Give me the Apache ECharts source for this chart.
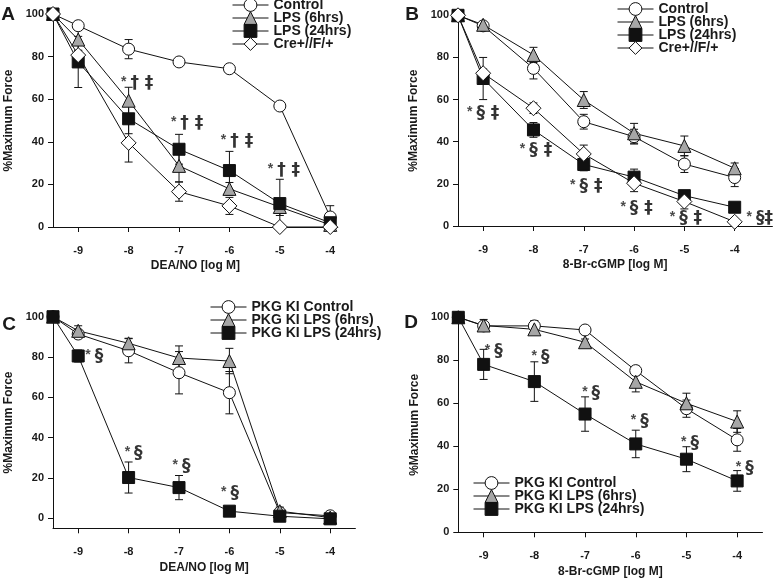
<!DOCTYPE html>
<html>
<head>
<meta charset="utf-8">
<script src="https://cdn.jsdelivr.net/npm/echarts@6/dist/echarts.min.js"></script>
<style>
html,body{margin:0;padding:0;background:#fff;}
#chart{width:776px;height:579px;}
</style>
</head>
<body>
<div id="chart"></div>
<script>
// ---------- data ----------
const xVals = [-9.5, -9, -8, -7, -6, -5, -4];
const xTicks = [-9, -8, -7, -6, -5, -4];
const yTicks = [0, 20, 40, 60, 80, 100];

// Panel A : DEA/NO
const aControl = [100, 94.5, 83.5, 77.5, 74.3, 56.8, 4.7];
const aControlErr = [0, 0, 4.5, 0, 0, 0, 5.3];
const aLps6 = [100, 88, 59.3, 28.7, 17.9, 9.4, 1];
const aLps6Err = [0, 5, 6.3, 7.5, 3, 4, 0.5];
const aLps24 = [100, 77.5, 50.8, 36.5, 26.5, 11, 2];
const aLps24Err = [0, 12, 7, 7, 9, 11.4, 1];
const aCre = [100, 80.7, 39.5, 16.6, 9.9, 0, 0];
const aCreErr = [0, 2, 9, 4.5, 4, 0, 0];
const aAnnX = [-7.83, -6.84, -5.85, -4.92];
const aAnnY = [67.4, 48.6, 40, 26.6];
const aAnnMarks = ['† ‡', '† ‡', '† ‡', '† ‡'];

// Panel B : 8-Br-cGMP
const bControl = [100, 95, 74.8, 49.5, 42.4, 29.4, 23];
const bControlErr = [0, 1, 5, 3.5, 3.5, 4, 4.3];
const bLps6 = [100, 95.5, 81.2, 59.8, 44, 38, 27.4];
const bLps6Err = [0, 1.5, 3.6, 4, 4.7, 4.7, 2.5];
const bLps24 = [100, 70, 45.6, 29.2, 23.2, 14.4, 8.9];
const bLps24Err = [0, 10, 3.5, 3, 3.8, 1.5, 1.5];
const bCre = [100, 72.5, 55.9, 34.2, 20.3, 11.6, 2];
const bCreErr = [0, 2, 2.5, 4.2, 4, 3.5, 1];
const bAnnX = [-9, -7.95, -6.95, -5.95, -4.97, -3.5];
const bAnnY = [53.5, 36, 18.7, 8.4, 3.6, 3.6];
const bAnnMarks = ['§ ‡', '§ ‡', '§ ‡', '§ ‡', '§ ‡', '§‡'];

// Panel C : DEA/NO, PKG KI
const cControl = [100, 91.4, 83.1, 72.2, 62.3, 2.8, 1.2];
const cControlErr = [0, 2, 6, 10.5, 10.5, 2, 1];
const cLps6 = [100, 93, 86.8, 79.5, 78, 3.5, 0.3];
const cLps6Err = [0, 2.5, 2.5, 6, 6.3, 2, 0.5];
const cLps24 = [100, 80.5, 20.2, 15.2, 3.5, 1, -0.3];
const cLps24Err = [0, 3, 7.7, 6, 0.5, 0.5, 0.5];
const cAnnX = [-8.68, -7.9, -6.95, -5.99];
const cAnnY = [80, 32, 25.5, 12.3];
const cAnnMarks = ['§', '§', '§', '§'];

// Panel D : 8-Br-cGMP, PKG KI
const dControl = [100, 96, 96, 94.1, 75.2, 57.5, 43];
const dControlErr = [0, 1.5, 2.5, 1, 2, 4, 5.3];
const dLps6 = [100, 96.2, 94.4, 88.4, 70, 60, 51.5];
const dLps6Err = [0, 2.8, 2, 1.5, 4.7, 4.7, 5];
const dLps24 = [100, 78.1, 70.1, 55, 41.1, 34, 23.9];
const dLps24Err = [0, 7, 9.2, 8, 6.4, 5.8, 4.8];
const dAnnX = [-8.8, -7.88, -6.88, -5.92, -4.93, -3.85];
const dAnnY = [84, 81.2, 64.6, 51.5, 41.4, 29.8];
const dAnnMarks = ['§', '§', '§', '§', '§', '§'];

const namesAB = ['Control', 'LPS (6hrs)', 'LPS (24hrs)', 'Cre+//F/+'];
const namesCD = ['PKG KI Control', 'PKG KI LPS (6hrs)', 'PKG KI LPS (24hrs)'];
const xNames = ['DEA/NO [log M]', '8-Br-cGMP [log M]', 'DEA/NO [log M]', '8-Br-cGMP [log M]'];
const yName = '%Maximum Force';
const panelLetters = ['A', 'B', 'C', 'D'];

// ---------- styling ----------
const FONT = 'Liberation Sans, Arial, sans-serif';
const INK = '#1a1a1a';
const styles = {
  control: {symbol: 'circle', size: 12, color: '#ffffff'},
  lps6: {symbol: 'triangle', size: 13, color: '#a6a6a6'},
  lps24: {symbol: 'rect', size: 12, color: '#111111'},
  cre: {symbol: 'diamond', size: 15, color: '#ffffff'}
};
const stylesAB = [styles.control, styles.lps6, styles.lps24, styles.cre];
const stylesCD = [styles.control, styles.lps6, styles.lps24];

const grids = [
  {left: 53, top: 14, width: 284.8, height: 213},
  {left: 458, top: 15.3, width: 314.4, height: 210.7},
  {left: 53, top: 316.7, width: 302.4, height: 211.6},
  {left: 458.3, top: 317.3, width: 304.2, height: 215}
];
const xMax = [-3.85, -3.25, -3.5, -3.5];
const yMin = [0, 0, -5, 0];

const series = [];

function addSeries(name, gi, vals, errs, st) {
  series.push({
    type: 'custom', xAxisIndex: gi, yAxisIndex: gi, z: 1, silent: true,
    data: xVals.map((x, i) => [x, vals[i] - errs[i], vals[i] + errs[i]]),
    renderItem: function (params, api) {
      const lo = api.coord([api.value(0), api.value(1)]);
      const hi = api.coord([api.value(0), api.value(2)]);
      if (Math.abs(hi[1] - lo[1]) < 0.5) return null;
      const w = 4;
      const s = {stroke: '#111', lineWidth: 1, fill: null};
      return {type: 'group', children: [
        {type: 'line', shape: {x1: lo[0], y1: lo[1], x2: hi[0], y2: hi[1]}, style: s},
        {type: 'line', shape: {x1: lo[0] - w, y1: lo[1], x2: lo[0] + w, y2: lo[1]}, style: s},
        {type: 'line', shape: {x1: hi[0] - w, y1: hi[1], x2: hi[0] + w, y2: hi[1]}, style: s}
      ]};
    }
  });
  series.push({
    name: name, type: 'line', xAxisIndex: gi, yAxisIndex: gi, z: 3,
    data: xVals.map((x, i) => [x, vals[i]]),
    symbol: st.symbol, symbolSize: st.size, showAllSymbol: true,
    lineStyle: {color: '#111', width: 1},
    itemStyle: {color: st.color, borderColor: '#111', borderWidth: 1},
    emphasis: {disabled: true}, animation: false
  });
}

function addAnn(gi, xs, ys, marks) {
  series.push({
    type: 'scatter', xAxisIndex: gi, yAxisIndex: gi, z: 5, silent: true,
    symbolSize: 1, itemStyle: {color: 'rgba(0,0,0,0)'},
    data: xs.map((x, i) => ({value: [x, ys[i]], mark: marks[i]})),
    label: {show: true, position: 'inside',
      formatter: p => '{s|*}{d|' + marks[p.dataIndex] + '}',
      rich: {
        s: {color: INK, fontFamily: FONT, fontWeight: 'bold', fontSize: 14, verticalAlign: 'top', padding: [0, 4, 0, 0]},
        d: {color: '#000', fontFamily: 'DejaVu Sans', fontWeight: 'bold', fontSize: 17}
      }},
    animation: false
  });
}

addSeries(namesAB[0], 0, aControl, aControlErr, styles.control);
addSeries(namesAB[1], 0, aLps6, aLps6Err, styles.lps6);
addSeries(namesAB[2], 0, aLps24, aLps24Err, styles.lps24);
addSeries(namesAB[3], 0, aCre, aCreErr, styles.cre);
addAnn(0, aAnnX, aAnnY, aAnnMarks);

addSeries(namesAB[0], 1, bControl, bControlErr, styles.control);
addSeries(namesAB[1], 1, bLps6, bLps6Err, styles.lps6);
addSeries(namesAB[2], 1, bLps24, bLps24Err, styles.lps24);
addSeries(namesAB[3], 1, bCre, bCreErr, styles.cre);
addAnn(1, bAnnX, bAnnY, bAnnMarks);

addSeries(namesCD[0], 2, cControl, cControlErr, styles.control);
addSeries(namesCD[1], 2, cLps6, cLps6Err, styles.lps6);
addSeries(namesCD[2], 2, cLps24, cLps24Err, styles.lps24);
addAnn(2, cAnnX, cAnnY, cAnnMarks);

addSeries(namesCD[0], 3, dControl, dControlErr, styles.control);
addSeries(namesCD[1], 3, dLps6, dLps6Err, styles.lps6);
addSeries(namesCD[2], 3, dLps24, dLps24Err, styles.lps24);
addAnn(3, dAnnX, dAnnY, dAnnMarks);

const axisCommon = {
  axisLine: {show: true, onZero: false, lineStyle: {color: '#111', width: 1}},
  axisTick: {show: true, inside: false, length: 5, lineStyle: {color: '#111'}},
  splitLine: {show: false}
};

const xAxes = grids.map((g, i) => Object.assign({}, axisCommon, {
  type: 'value', gridIndex: i, min: -9.5, max: xMax[i],
  axisTick: Object.assign({}, axisCommon.axisTick, {customValues: xTicks}),
  axisLabel: {customValues: xTicks, margin: 18, color: INK, fontFamily: FONT, fontWeight: 'bold', fontSize: 11},
  name: xNames[i], nameLocation: 'middle', nameGap: 33,
  nameTextStyle: {color: INK, fontFamily: FONT, fontWeight: 'bold', fontSize: 12}
}));
const yAxes = grids.map((g, i) => Object.assign({}, axisCommon, {
  type: 'value', gridIndex: i, min: yMin[i], max: 100,
  axisTick: Object.assign({}, axisCommon.axisTick, {customValues: yTicks}),
  axisLabel: {customValues: yTicks, margin: 9, color: INK, fontFamily: FONT, fontWeight: 'bold', fontSize: 11},
  name: yName, nameLocation: 'middle', nameGap: 38, nameRotate: 90,
  nameTextStyle: {color: INK, fontFamily: FONT, fontWeight: 'bold', fontSize: 12}
}));

function legendData(names, sts) {
  return names.map((n, i) => ({
    name: n,
    itemStyle: {color: sts[i].color, borderColor: '#111', borderWidth: 1},
    lineStyle: {color: '#111', width: 1}
  }));
}

const legendCommon = {
  orient: 'vertical', itemWidth: 36, itemHeight: 16, itemGap: -1, padding: 0,
  selectedMode: false,
  textStyle: {color: INK, fontFamily: FONT, fontWeight: 'bold', fontSize: 14}
};
const legends = [
  Object.assign({}, legendCommon, {data: legendData(namesAB, stylesAB), left: 232, top: -2}),
  Object.assign({}, legendCommon, {data: legendData(namesAB, stylesAB), left: 617, top: 2}),
  Object.assign({}, legendCommon, {data: legendData(namesCD, stylesCD), left: 210, top: 300}),
  Object.assign({}, legendCommon, {data: legendData(namesCD, stylesCD), left: 473, top: 476})
];

const letterPos = [[8, 15], [412, 15], [9, 325], [411, 323]];
const graphics = panelLetters.map((t, i) => ({
  type: 'text', x: letterPos[i][0], y: letterPos[i][1],
  style: {text: t, fill: INK, font: 'bold 19px ' + FONT, align: 'center', verticalAlign: 'middle'}
}));

const chart = echarts.init(document.getElementById('chart'), null, {renderer: 'canvas'});
chart.setOption({
  animation: false,
  backgroundColor: '#ffffff',
  grid: grids,
  xAxis: xAxes,
  yAxis: yAxes,
  legend: legends,
  graphic: graphics,
  series: series
});
</script>
</body>
</html>
